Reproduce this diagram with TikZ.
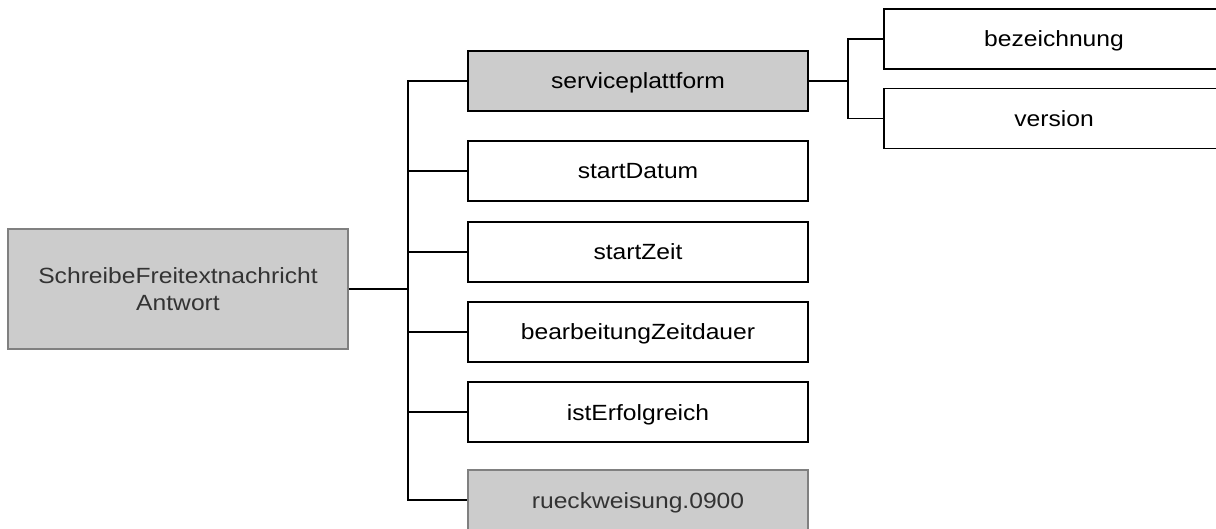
\documentclass[tikz,border=0pt]{standalone}
\usepackage{fontspec}
\setmainfont{Liberation Sans}[FakeStretch=1.12]
\definecolor{boxgray}{HTML}{CCCCCC}
\definecolor{edgegray}{HTML}{808080}
\definecolor{txtgray}{HTML}{333333}
\begin{document}
\begin{tikzpicture}[x=1pt,y=-1pt,
  box/.style={draw=black, line width=1.3pt, fill=white, minimum width=340pt, minimum height=60pt,
    inner sep=0pt, align=center, font=\fontsize{22}{27}\selectfont, text=black,
    text height=20pt, text depth=4pt},
  graybox/.style={box, fill=boxgray},
  ghostbox/.style={box, fill=boxgray, draw=edgegray, text=txtgray},
  conn/.style={draw=black, line width=1.3pt}]
\clip (0,0) rectangle (1216,529);
\node[ghostbox, minimum height=120pt, text height=, text depth=] (root) at (178,289) {SchreibeFreitextnachricht\\Antwort};
\node[graybox] (sp) at (638,81) {serviceplattform};
\node[box] (sd) at (638,171) {startDatum};
\node[box] (sz) at (638,252) {startZeit};
\node[box] (bz) at (638,332) {bearbeitungZeitdauer};
\node[box] (ie) at (638,412) {istErfolgreich};
\node[ghostbox] (rw) at (638,500) {rueckweisung.0900};
\node[box, minimum width=350pt] (bez) at (1059,39) {\hspace*{-10pt}bezeichnung};
\node[box, minimum width=350pt] (ver) at (1059,118.5) {\hspace*{-10pt}version};
\coordinate (busL) at (408,289);
\coordinate (busR) at (848,81);
\draw[conn] (root.east) -- (busL);
\foreach \n in {sp,sd,sz,bz,ie,rw} \draw[conn] (busL) |- (\n.west);
\draw[conn] (sp.east) -- (busR);
\draw[conn] (busR) |- (bez.west);
\draw[conn] (busR) |- (ver.west);
\end{tikzpicture}
\end{document}
